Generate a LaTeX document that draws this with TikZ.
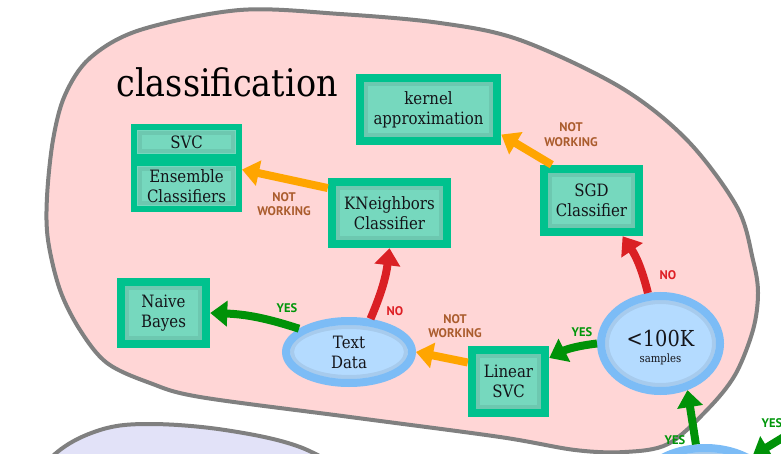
\documentclass[tikz,border=0pt]{standalone}
\usepackage{fontspec}
\setmainfont{DejaVu Serif}[FakeStretch=0.88]
\newfontfamily\lblfont{PT Sans}
\usetikzlibrary{arrows.meta,shapes.geometric,shadows,calc}
\definecolor{pinkfill}{RGB}{255,214,214}
\definecolor{blobline}{RGB}{128,128,128}
\definecolor{lavfill}{RGB}{226,226,248}
\definecolor{boxline}{RGB}{0,194,142}
\definecolor{boxfill}{RGB}{118,216,190}
\definecolor{ellline}{RGB}{124,188,246}
\definecolor{ellfill}{RGB}{180,219,255}
\definecolor{arrorange}{RGB}{255,165,0}
\definecolor{arrred}{RGB}{218,32,36}
\definecolor{arrgreen}{RGB}{0,146,8}
\definecolor{lblbrown}{RGB}{170,92,45}
\definecolor{lblred}{RGB}{222,30,36}
\definecolor{lblgreen}{RGB}{0,150,10}
\definecolor{txt}{RGB}{20,20,25}
\tikzset{
  blob/.style={draw=blobline, line width=4pt},
  algo/.style={rectangle, draw=boxline, fill=boxfill, line width=8.5pt, inner sep=0pt,
    align=center, text=txt, font=\fontsize{17}{20}\selectfont,
    drop shadow={shadow xshift=2pt, shadow yshift=-2pt, opacity=0.22},
    path picture={\draw[black, opacity=0.07, line width=4pt]
      ([shift={(6pt,6pt)}]path picture bounding box.south west) rectangle
      ([shift={(-6pt,-6pt)}]path picture bounding box.north east);}},
  ensalgo/.style={algo, line width=6pt},
  dec/.style={ellipse, draw=ellline, fill=ellfill, line width=8pt, inner sep=0pt,
    align=center, text=txt, font=\fontsize{17}{20}\selectfont,
    drop shadow={shadow xshift=2pt, shadow yshift=-2pt, opacity=0.22},
    path picture={\path[draw=black, opacity=0.07, line width=4pt]
      let \p1=(path picture bounding box.north east), \p2=(path picture bounding box.center) in
      (\p2) ellipse [x radius={\x1-\x2-6pt}, y radius={\y1-\y2-6pt}];}},
  arr/.style={line width=8pt, -{Triangle[length=17pt,width=25pt]}},
  lbl/.style={font=\lblfont\bfseries\fontsize{12.5}{14.5}\selectfont, align=center}
}
\begin{document}
\begin{tikzpicture}[x=1pt,y=-1pt]
\useasboundingbox (0,0) rectangle (781,454);
\clip (0,0) rectangle (781,454);
% blobs
\path[blob, fill=lavfill] plot[smooth, tension=0.6] coordinates {(20,500) (55,454) (100,430) (150,424) (225,430) (300,447) (360,480)};
\path[blob, fill=pinkfill] plot[smooth cycle, tension=0.55] coordinates {
 (240,10) (340,14) (440,23) (520,40) (620,87) (687,140) (737,207) (753,260) (758,293) (753,330)
 (735,375) (707,410) (668,444) (625,452) (575,450) (500,437) (350,417) (200,397) (150,383)
 (107,363) (80,330) (60,290) (48,240) (47,197) (53,140) (65,95) (90,58) (140,30)};
\node[font=\fontsize{38}{40}\selectfont, anchor=base west, text=black] (title) at (113,97) {classification};
% nodes
\node[algo, minimum width=137pt, minimum height=63pt] (ka) at (428.5,109.5) {kernel\\approximation};
\node[ensalgo, minimum width=105pt, minimum height=30pt] (svc) at (186.5,142.5) {SVC};
\node[ensalgo, minimum width=105pt, minimum height=46pt] (ens) at (186.5,186.5) {Ensemble\\Classifiers};
\node[algo, minimum width=115pt, minimum height=62pt] (kn) at (389.5,213) {KNeighbors\\Classifier};
\node[algo, minimum width=95pt, minimum height=63pt] (sgd) at (591.5,200.5) {SGD\\Classifier};
\node[algo, minimum width=85pt, minimum height=62pt] (nb) at (163.5,313) {Naive\\Bayes};
\node[algo, minimum width=73pt, minimum height=63pt] (ls) at (508.5,381.5) {Linear\\SVC};
\node[dec, minimum width=126pt, minimum height=62pt] (td) at (349,352) {Text\\Data};
\node[dec, minimum width=119pt, minimum height=95pt, font=\fontsize{11.5}{16}\selectfont] (hk) at (660.5,343.5) {\rule{0pt}{25pt}{\fontsize{22}{24}\selectfont <100K}\\samples};
\node[dec, minimum width=140pt, minimum height=96pt] (be) at (705,496) {};
\coordinate (rt) at (815,418);
% arrows
\draw[arr, arrgreen] (td.155) to[bend right=8] (nb.east);
\draw[arr, arrred] (td.57) to[bend right=8] (kn.south);
\draw[arr, arrorange] (ls.155) -- (td.east);
\draw[arr, arrgreen] (hk.west) to[bend right=10] (ls.30);
\draw[arr, arrred] (hk.104) to[bend right=10] (sgd.-49);
\draw[arr, arrorange] (sgd.138) -- (ka.-19);
\draw[arr, arrorange] (kn.158) -- (ens.17);
\draw[arr, arrgreen] (be.100) -- (hk.-60);
\draw[arr, arrgreen] (rt) -- (be.40);
% labels
\node[lbl, text=lblbrown] (l1) at (571,134.5) {NOT\\WORKING};
\node[lbl, text=lblbrown] (l2) at (284,204) {NOT\\WORKING};
\node[lbl, text=lblbrown] (l3) at (455,326) {NOT\\WORKING};
\node[lbl, text=lblgreen] (l4) at (287,308) {YES};
\node[lbl, text=lblred] (l5) at (395,311) {NO};
\node[lbl, text=lblgreen] (l6) at (582,332) {YES};
\node[lbl, text=lblred] (l7) at (668,275) {NO};
\node[lbl, text=lblgreen] (l8) at (675,440) {YES};
\node[lbl, text=lblgreen] (l9) at (772,423) {YES};
\end{tikzpicture}
\end{document}
